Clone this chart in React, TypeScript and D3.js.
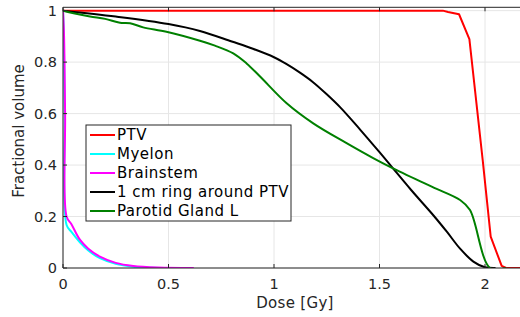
import React from "react";
import * as d3 from "d3";

const xTicks = [0, 0.5, 1, 1.5, 2];
const yTicks = [0, 0.2, 0.4, 0.6, 0.8, 1];

const seriesNames = ["PTV", "Myelon", "Brainstem", "1 cm ring around PTV", "Parotid Gland L"];
const seriesColors = ["#ff0000", "#00ffff", "#ff00ff", "#000000", "#008000"];

const ptvDose = [0, 1.8, 1.825, 1.877, 1.926, 1.989, 2.027, 2.079, 2.1, 2.2];
const ptvVol = [1, 1, 0.995, 0.986, 0.889, 0.42, 0.122, 0.008, 0, 0];

const myelonDose = [0, 0.004, 0.008, 0.017, 0.04, 0.08, 0.12, 0.175, 0.25, 0.333, 0.42, 0.5];
const myelonVol = [1, 0.9, 0.6, 0.167, 0.14, 0.1, 0.068, 0.038, 0.016, 0.005, 0.001, 0];

const brainDose = [0, 0.005, 0.01, 0.017, 0.04, 0.08, 0.12, 0.175, 0.25, 0.333, 0.45, 0.62];
const brainVol = [1, 0.9, 0.6, 0.2, 0.17, 0.11, 0.075, 0.044, 0.02, 0.008, 0.002, 0];

const ringDose = [0, 0.25, 0.5, 0.649, 0.8, 0.9, 1.0, 1.06, 1.123, 1.185, 1.25, 1.313, 1.408, 1.5, 1.557, 1.65, 1.756, 1.82, 1.882, 1.945, 2.0, 2.05];
const ringVol = [1, 0.977, 0.948, 0.921, 0.88, 0.852, 0.819, 0.792, 0.759, 0.722, 0.675, 0.625, 0.538, 0.45, 0.394, 0.303, 0.204, 0.14, 0.075, 0.025, 0.003, 0];

const parotidDose = [0, 0.05, 0.128, 0.2, 0.27, 0.318, 0.38, 0.49, 0.649, 0.72, 0.807, 0.87, 0.934, 1.06, 1.186, 1.344, 1.47, 1.557, 1.75, 1.882, 1.929, 2.024, 2.1];
const parotidVol = [1, 0.99, 0.977, 0.968, 0.953, 0.951, 0.935, 0.918, 0.883, 0.864, 0.834, 0.795, 0.744, 0.64, 0.562, 0.485, 0.427, 0.39, 0.315, 0.264, 0.225, 0, 0];

const W = 520, H = 317;
const left = 63, right = 522, top = 7.3, bottom = 268;
const font = "DejaVu Sans";

export default function App() {
  const x = d3.scaleLinear().domain([0, (right - left) / 211]).range([left, right]);
  const y = d3.scaleLinear().domain([0, 1.013]).range([bottom, top]);
  const lineStraight = d3.line<[number, number]>().x(d => x(d[0])).y(d => y(d[1]));
  const lineSmooth = d3.line<[number, number]>().x(d => x(d[0])).y(d => y(d[1])).curve(d3.curveCatmullRom.alpha(0.5));
  const series: [number[], number[]][] = [
    [ptvDose, ptvVol], [myelonDose, myelonVol], [brainDose, brainVol], [ringDose, ringVol], [parotidDose, parotidVol],
  ];
  const axisColor = "#262626";
  const legX = 86, legY = 125, legW = 205, legH = 96, rowH = 19;
  return (
    <svg width={W} height={H} style={{ position: "absolute", left: 0, top: 0, background: "#fff" }} fontFamily={font}>
      <defs>
        <clipPath id="plot"><rect x={left} y={top} width={right - left} height={bottom - top} /></clipPath>
      </defs>
      {xTicks.map(t => <line key={"gx" + t} x1={x(t)} x2={x(t)} y1={top} y2={bottom} stroke="#e6e6e6" />)}
      {yTicks.map(t => <line key={"gy" + t} x1={left} x2={right} y1={y(t)} y2={y(t)} stroke="#e6e6e6" />)}
      <g clipPath="url(#plot)">
        {series.map((s, i) => {
          const pts = s[0].map((d, j) => [d, s[1][j]] as [number, number]);
          const gen = i === 0 ? lineStraight : lineSmooth;
          return <path key={i} d={gen(pts) || ""} fill="none" stroke={seriesColors[i]} strokeWidth={2} strokeLinejoin="round" />;
        })}
      </g>
      <line x1={left} x2={right} y1={bottom} y2={bottom} stroke={axisColor} />
      <line x1={left} x2={right} y1={top} y2={top} stroke={axisColor} />
      <line x1={left} x2={left} y1={top} y2={bottom} stroke={axisColor} />
      {xTicks.map(t => (
        <g key={"tx" + t}>
          <line x1={x(t)} x2={x(t)} y1={bottom} y2={bottom - 4} stroke={axisColor} />
          <line x1={x(t)} x2={x(t)} y1={top} y2={top + 4} stroke={axisColor} />
          <text x={x(t)} y={289} textAnchor="middle" fontSize={14.5} fill="#262626">{String(t)}</text>
        </g>
      ))}
      {yTicks.map(t => (
        <g key={"ty" + t}>
          <line x1={left} x2={left + 4} y1={y(t)} y2={y(t)} stroke={axisColor} />
          <text x={57} y={y(t) + 5} textAnchor="end" fontSize={14.5} fill="#262626">{String(t)}</text>
        </g>
      ))}
      <text x={295} y={308} textAnchor="middle" fontSize={15} letterSpacing={0.3} fill="#262626">Dose [Gy]</text>
      <text transform={`translate(24,131) rotate(-90)`} textAnchor="middle" fontSize={15} fill="#262626">Fractional volume</text>
      <rect x={legX} y={legY} width={legW} height={legH} fill="#fff" stroke={axisColor} strokeWidth={1} />
      {seriesNames.map((n, i) => (
        <g key={n}>
          <line x1={90} x2={115} y1={legY + 10 + i * rowH} y2={legY + 10 + i * rowH} stroke={seriesColors[i]} strokeWidth={2} />
          <text x={117} y={legY + 15 + i * rowH} fontSize={15} letterSpacing={0.5} fill="#000">{n}</text>
        </g>
      ))}
    </svg>
  );
}
